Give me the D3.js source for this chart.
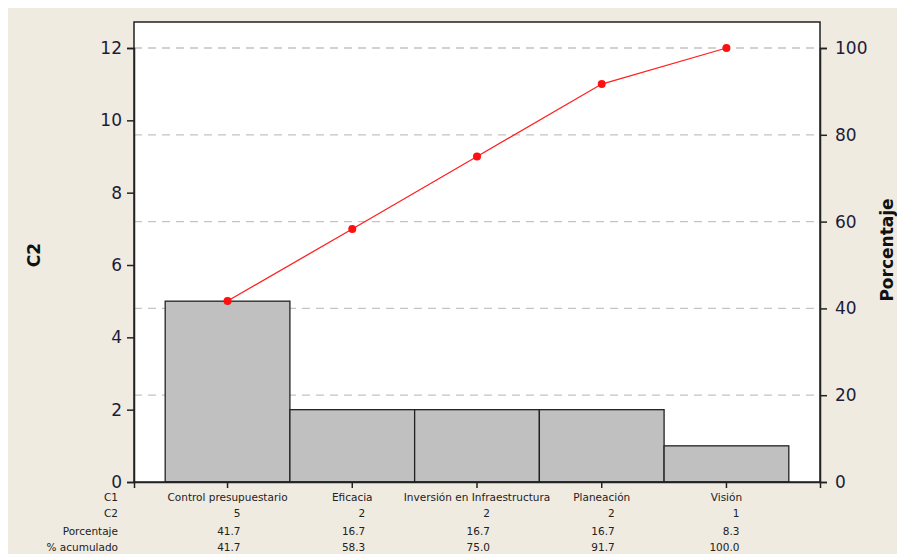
<!DOCTYPE html>
<html>
<head>
<meta charset="utf-8">
<script src="https://cdn.jsdelivr.net/npm/d3@7.9.0/dist/d3.min.js"></script>
<style>
  body { margin: 0; background: #fff; }
  svg { display: block; }
</style>
</head>
<body>
<svg width="897" height="554"></svg>
<script>
// data
const categories = ['Control presupuestario', 'Eficacia', 'Inversión en Infraestructura', 'Planeación', 'Visión'];
const counts = [5, 2, 2, 2, 1];
const percents = ['41.7', '16.7', '16.7', '16.7', '8.3'];
const cumulative = ['41.7', '58.3', '75.0', '91.7', '100.0'];
const leftTicks = [0, 2, 4, 6, 8, 10, 12];
const rightTicks = [0, 20, 40, 60, 80, 100];
const rowLabels = ['C1', 'C2', 'Porcentaje', '% acumulado'];

const svg = d3.select('svg');
const W = 897, H = 554;
const plotL = 134, plotR = 820, plotT = 22, plotB = 482;

svg.append('rect').attr('x', 8).attr('y', 8).attr('width', W - 8).attr('height', H - 8).attr('fill', '#efebe1');
svg.append('rect').attr('x', plotL).attr('y', plotT).attr('width', plotR - plotL).attr('height', plotB - plotT).attr('fill', '#fff');

let x = d3.scaleBand().domain(categories).range([plotL, plotR]).paddingInner(0).paddingOuter(0.25);
let y = d3.scaleLinear().domain([0, 12]).range([plotB, 48]);
let y2 = d3.scaleLinear().domain([0, 100]).range([plotB, 48]);

// dashed gridlines on the percent axis
svg.append('g').selectAll('line')
  .data(rightTicks.filter(d => d > 0))
  .join('line')
  .attr('x1', plotL).attr('x2', plotR)
  .attr('y1', d => y2(d)).attr('y2', d => y2(d))
  .attr('stroke', '#c4c4c4').attr('stroke-width', 1.3).attr('stroke-dasharray', '8,6');

// bars
svg.append('g').selectAll('rect')
  .data(counts)
  .join('rect')
  .attr('x', (d, i) => x(categories[i]))
  .attr('y', d => y(d))
  .attr('width', x.bandwidth())
  .attr('height', d => y(0) - y(d))
  .attr('fill', '#c0c0c0').attr('stroke', '#222').attr('stroke-width', 1.3);

// frame
svg.append('rect').attr('x', plotL).attr('y', plotT).attr('width', plotR - plotL).attr('height', plotB - plotT)
  .attr('fill', 'none').attr('stroke', '#222').attr('stroke-width', 1.5);

const axisFont = 'Tahoma, "DejaVu Sans", sans-serif';

let leftAxis = svg.append('g').attr('transform', `translate(${plotL},0)`)
  .call(d3.axisLeft(y).tickValues(leftTicks).tickSize(7).tickPadding(5));
let rightAxis = svg.append('g').attr('transform', `translate(${plotR},0)`)
  .call(d3.axisRight(y2).tickValues(rightTicks).tickSize(7).tickPadding(8));
let bottomAxis = svg.append('g').attr('transform', `translate(0,${plotB})`)
  .call(d3.axisBottom(x).tickSize(6).tickFormat(''));
[leftAxis, rightAxis, bottomAxis].forEach(g => {
  g.select('.domain').attr('stroke', '#222').attr('stroke-width', 1.5);
  g.selectAll('.tick line').attr('stroke', '#222').attr('stroke-width', 1.5);
  g.selectAll('.tick text').attr('font-family', axisFont).attr('font-size', 17).attr('fill', '#1c1c3a');
});

// cumulative line
let line = d3.line().x((d, i) => x(categories[i]) + x.bandwidth() / 2).y(d => y2(+d));
svg.append('path').datum(cumulative).attr('d', line)
  .attr('fill', 'none').attr('stroke', '#ff2020').attr('stroke-width', 1.3);
svg.append('g').selectAll('circle')
  .data(cumulative)
  .join('circle')
  .attr('cx', (d, i) => x(categories[i]) + x.bandwidth() / 2)
  .attr('cy', d => y2(+d))
  .attr('r', 4).attr('fill', '#ff1010');

// axis titles
svg.append('text').attr('transform', 'translate(40,255) rotate(-90)')
  .attr('text-anchor', 'middle').attr('font-family', axisFont).attr('font-weight', 'bold')
  .attr('font-size', 17).attr('fill', '#111').text('C2');
svg.append('text').attr('transform', 'translate(893,250) rotate(-90)')
  .attr('text-anchor', 'middle').attr('font-family', axisFont).attr('font-weight', 'bold')
  .attr('font-size', 17).attr('fill', '#111').text('Porcentaje');

// table under the chart
const rowY = [501, 517, 535, 551];
const tableFont = 'Tahoma, "DejaVu Sans", sans-serif';
let table = svg.append('g').attr('font-family', tableFont).attr('font-size', 10.5).attr('fill', '#222');
rowLabels.forEach((lab, r) => {
  table.append('text').attr('x', 118).attr('y', rowY[r]).attr('text-anchor', 'end').text(lab);
});
categories.forEach((c, i) => {
  let cx = x(c) + x.bandwidth() / 2;
  table.append('text').attr('x', cx).attr('y', rowY[0]).attr('text-anchor', 'middle').text(c);
  [counts[i], percents[i], cumulative[i]].forEach((v, r) => {
    table.append('text').attr('x', cx + 13).attr('y', rowY[r + 1]).attr('text-anchor', 'end').text(v);
  });
});
</script>
</body>
</html>
